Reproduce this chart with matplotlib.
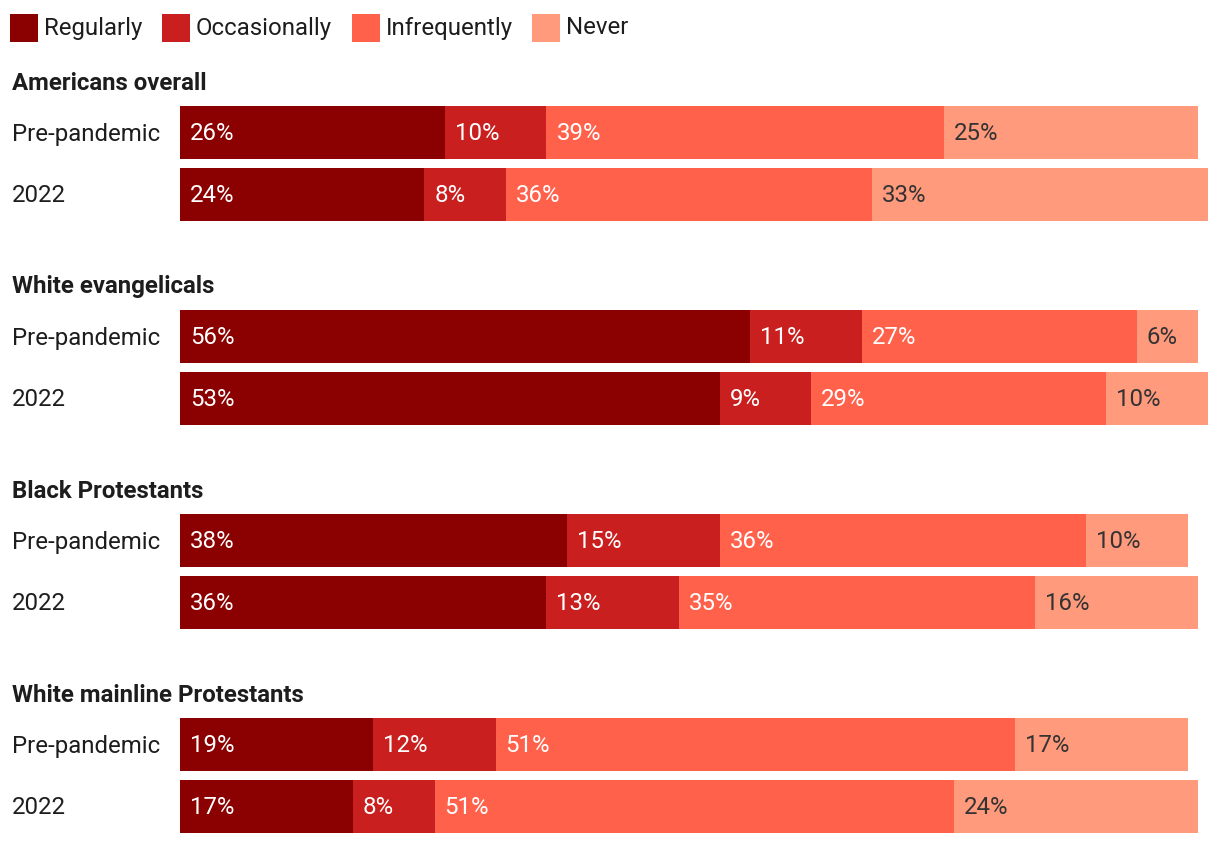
import matplotlib
matplotlib.use("Agg")
import matplotlib.pyplot as plt
from matplotlib.patches import Rectangle

plt.rcParams['font.family'] = ['Roboto', 'DejaVu Sans']

# data
categories = ['Regularly', 'Occasionally', 'Infrequently', 'Never']
groups = ['Americans overall', 'White evangelicals', 'Black Protestants',
          'White mainline Protestants']
periods = ['Pre-pandemic', '2022']

regularly = [[26, 24], [56, 53], [38, 36], [19, 17]]
occasionally = [[10, 8], [11, 9], [15, 13], [12, 8]]
infrequently = [[39, 36], [27, 29], [36, 35], [51, 51]]
never = [[25, 33], [6, 10], [10, 16], [17, 24]]

series = [regularly, occasionally, infrequently, never]
colors = ['#8b0000', '#c91f1f', '#ff614b', '#ff9a7c']
label_colors = ['white', 'white', 'white', '#333333']
text_color = '#1d1d1d'

W, H = 1220, 846
fig = plt.figure(figsize=(W / 100, H / 100), dpi=100)
ax = fig.add_axes([0, 0, 1, 1])

# x in percent, y in pixels from top
px_per_pct = 10.18
x0 = 180
ax.set_xlim(-x0 / px_per_pct, (W - x0) / px_per_pct)
ax.set_ylim(H, 0)
ax.axis('off')

fs = 17.3
bar_h = 53
group_top = 83      # title centre of first group
group_step = 204
bar_offsets = [49.5, 111.5]  # bar centres relative to title centre

for g, name in enumerate(groups):
    ty = group_top + g * group_step
    ax.text(-168 / px_per_pct, ty, name, fontsize=fs, fontweight='bold',
            color=text_color, va='center', ha='left')
    for p, period in enumerate(periods):
        yc = ty + bar_offsets[p]
        ax.text(-168 / px_per_pct, yc + 1.5, period, fontsize=fs,
                color=text_color, va='center', ha='left')
        left = 0
        for s, vals in enumerate(series):
            v = vals[g][p]
            ax.barh(yc, v, left=left, height=bar_h, color=colors[s],
                    edgecolor='none')
            ax.text(left + 10 / px_per_pct, yc + 0.5, f'{v}%', fontsize=fs,
                    color=label_colors[s], va='center', ha='left')
            left += v

# legend
leg_x = [10, 162, 352, 532]
for i, cat in enumerate(categories):
    xl = (leg_x[i] - x0) / px_per_pct
    ax.add_patch(Rectangle((xl, 14), 28 / px_per_pct, 28,
                           facecolor=colors[i], edgecolor='none'))
    ax.text(xl + 34 / px_per_pct, 28, cat, fontsize=fs, color=text_color,
            va='center', ha='left')

fig.savefig('out.png', dpi=100)
